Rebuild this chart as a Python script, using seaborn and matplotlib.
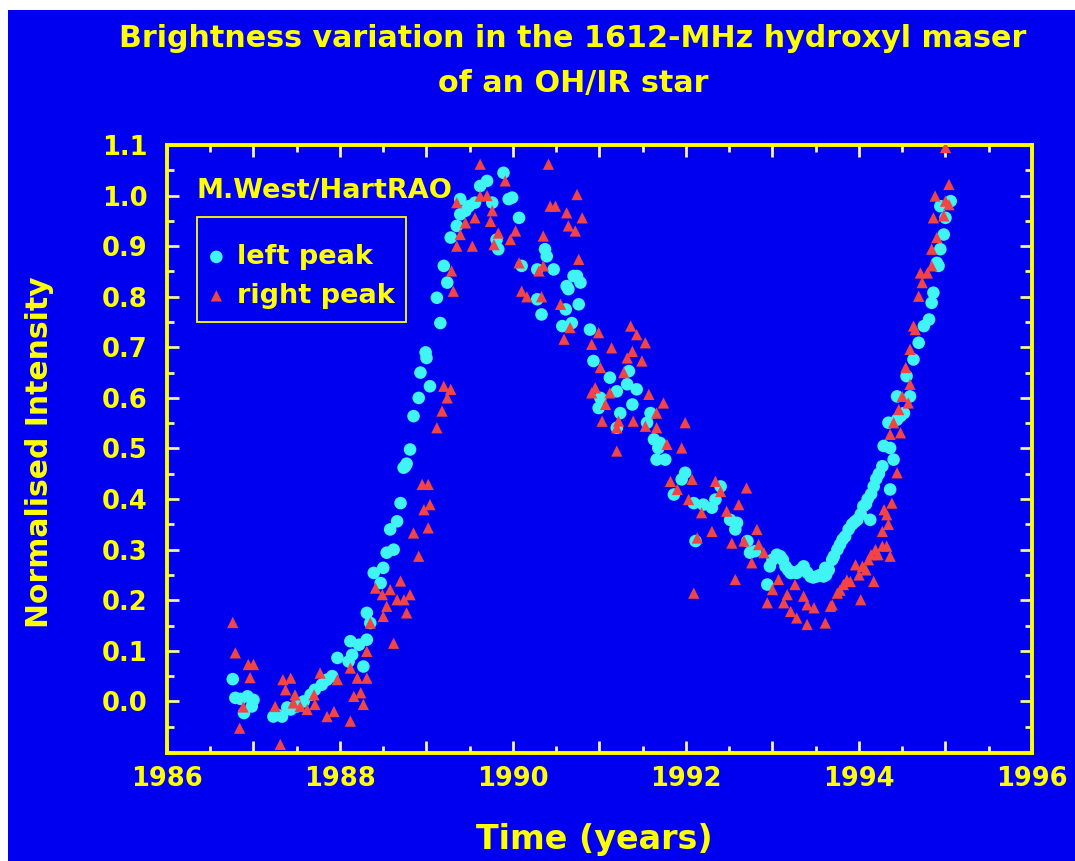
import matplotlib
matplotlib.use("Agg")
import matplotlib.pyplot as plt
from matplotlib.patches import Rectangle
from matplotlib.ticker import MultipleLocator, FixedLocator, FuncFormatter
import seaborn as sns
import pandas as pd

# ---------------- data ----------------
left_year = [
    1986.76, 1986.79, 1986.85, 1986.89, 1986.93, 1986.98, 1987.00, 1987.23, 1987.27, 1987.33,
    1987.39, 1987.43, 1987.50, 1987.58, 1987.66, 1987.71, 1987.79, 1987.85, 1987.91, 1987.97,
    1988.10, 1988.12, 1988.14, 1988.22, 1988.27, 1988.31, 1988.31, 1988.35, 1988.39, 1988.47,
    1988.50, 1988.54, 1988.58, 1988.62, 1988.66, 1988.70, 1988.735, 1988.755, 1988.77, 1988.81,
    1988.85, 1988.91, 1988.93, 1988.99, 1989.00, 1989.04, 1989.12, 1989.16, 1989.20, 1989.24,
    1989.28, 1989.35, 1989.39, 1989.39, 1989.45, 1989.49, 1989.56, 1989.62, 1989.70, 1989.76,
    1989.81, 1989.83, 1989.89, 1989.95, 1989.99, 1990.07, 1990.10, 1990.28, 1990.28, 1990.33,
    1990.37, 1990.39, 1990.47, 1990.57, 1990.61, 1990.62, 1990.64, 1990.68, 1990.70, 1990.74,
    1990.76, 1990.78, 1990.89, 1990.93, 1990.99, 1991.01, 1991.12, 1991.20, 1991.20, 1991.24,
    1991.32, 1991.34, 1991.38, 1991.43, 1991.55, 1991.59, 1991.63, 1991.66, 1991.68, 1991.70,
    1991.76, 1991.86, 1991.95, 1991.99, 1992.09, 1992.11, 1992.20, 1992.30, 1992.34, 1992.40,
    1992.51, 1992.57, 1992.59, 1992.71, 1992.74, 1992.80, 1992.94, 1992.97, 1993.00, 1993.05,
    1993.09, 1993.12, 1993.15, 1993.18, 1993.21, 1993.25, 1993.28, 1993.32, 1993.36, 1993.40,
    1993.44, 1993.47, 1993.51, 1993.55, 1993.59, 1993.61, 1993.62, 1993.65, 1993.69, 1993.71,
    1993.75, 1993.78, 1993.81, 1993.84, 1993.88, 1993.92, 1993.95, 1993.98, 1994.02, 1994.05,
    1994.08, 1994.10, 1994.13, 1994.14, 1994.17, 1994.20, 1994.23, 1994.27, 1994.285, 1994.34,
    1994.36, 1994.36, 1994.40, 1994.44, 1994.44, 1994.48, 1994.52, 1994.55, 1994.59, 1994.63,
    1994.69, 1994.75, 1994.81, 1994.84, 1994.86, 1994.90, 1994.92, 1994.94, 1994.94, 1994.98,
    1995.00, 1995.06,
]
left_intensity = [
    0.044, 0.007, 0.005, -0.023, 0.010, -0.010, 0.003, -0.030, -0.026, -0.030,
    -0.012, -0.016, -0.010, 0.000, 0.013, 0.023, 0.033, 0.043, 0.050, 0.086,
    0.079, 0.119, 0.092, 0.112, 0.069, 0.122, 0.175, 0.155, 0.254, 0.234,
    0.264, 0.294, 0.340, 0.300, 0.356, 0.392, 0.462, 0.465, 0.470, 0.498,
    0.564, 0.600, 0.650, 0.690, 0.679, 0.623, 0.798, 0.748, 0.861, 0.828,
    0.917, 0.940, 0.963, 0.993, 0.970, 0.979, 0.986, 1.019, 1.029, 0.986,
    0.913, 0.894, 1.045, 0.993, 0.996, 0.956, 0.861, 0.795, 0.854, 0.765,
    0.894, 0.880, 0.854, 0.742, 0.775, 0.821, 0.815, 0.748, 0.841, 0.841,
    0.785, 0.828, 0.735, 0.673, 0.580, 0.600, 0.640, 0.613, 0.541, 0.570,
    0.627, 0.653, 0.587, 0.617, 0.551, 0.570, 0.518, 0.478, 0.501, 0.511,
    0.478, 0.409, 0.439, 0.452, 0.392, 0.317, 0.389, 0.383, 0.399, 0.425,
    0.359, 0.340, 0.353, 0.317, 0.294, 0.297, 0.231, 0.267, 0.280, 0.290,
    0.287, 0.280, 0.267, 0.260, 0.254, 0.255, 0.254, 0.260, 0.267, 0.255,
    0.247, 0.245, 0.247, 0.250, 0.247, 0.264, 0.250, 0.260, 0.280, 0.287,
    0.300, 0.310, 0.320, 0.326, 0.340, 0.350, 0.355, 0.359, 0.370, 0.386,
    0.390, 0.400, 0.359, 0.410, 0.425, 0.440, 0.450, 0.465, 0.505, 0.551,
    0.419, 0.501, 0.478, 0.557, 0.603, 0.564, 0.570, 0.643, 0.603, 0.676,
    0.709, 0.742, 0.755, 0.788, 0.808, 0.867, 0.861, 0.894, 0.979, 0.923,
    0.956, 0.989,
]

right_year = [
    1986.76, 1986.79, 1986.84, 1986.88, 1986.94, 1986.96, 1987.00, 1987.25, 1987.31, 1987.34,
    1987.37, 1987.43, 1987.46, 1987.48, 1987.54, 1987.62, 1987.70, 1987.71, 1987.77, 1987.85,
    1987.93, 1987.97, 1988.12, 1988.12, 1988.16, 1988.20, 1988.24, 1988.27, 1988.31, 1988.31,
    1988.35, 1988.41, 1988.49, 1988.50, 1988.54, 1988.58, 1988.62, 1988.66, 1988.70, 1988.74,
    1988.77, 1988.81, 1988.85, 1988.91, 1988.95, 1988.97, 1989.02, 1989.02, 1989.04, 1989.12,
    1989.18, 1989.20, 1989.24, 1989.28, 1989.29, 1989.31, 1989.35, 1989.35, 1989.39, 1989.45,
    1989.53, 1989.56, 1989.62, 1989.62, 1989.70, 1989.74, 1989.76, 1989.78, 1989.83, 1989.91,
    1989.97, 1990.03, 1990.07, 1990.10, 1990.16, 1990.30, 1990.33, 1990.35, 1990.35, 1990.41,
    1990.43, 1990.49, 1990.55, 1990.59, 1990.62, 1990.64, 1990.66, 1990.72, 1990.74, 1990.76,
    1990.80, 1990.91, 1990.91, 1990.95, 1990.99, 1991.01, 1991.03, 1991.07, 1991.12, 1991.14,
    1991.20, 1991.20, 1991.22, 1991.28, 1991.32, 1991.36, 1991.38, 1991.39, 1991.43, 1991.49,
    1991.53, 1991.53, 1991.57, 1991.66, 1991.66, 1991.74, 1991.78, 1991.82, 1991.90, 1991.95,
    1991.99, 1992.03, 1992.07, 1992.09, 1992.13, 1992.18, 1992.30, 1992.34, 1992.40, 1992.47,
    1992.53, 1992.57, 1992.61, 1992.67, 1992.70, 1992.76, 1992.82, 1992.84, 1992.90, 1992.94,
    1993.00, 1993.07, 1993.13, 1993.17, 1993.21, 1993.26, 1993.28, 1993.36, 1993.40, 1993.40,
    1993.48, 1993.61, 1993.67, 1993.69, 1993.75, 1993.78, 1993.82, 1993.86, 1993.90, 1993.96,
    1994.00, 1994.02, 1994.04, 1994.08, 1994.11, 1994.14, 1994.17, 1994.19, 1994.22, 1994.27,
    1994.27, 1994.29, 1994.32, 1994.32, 1994.34, 1994.36, 1994.36, 1994.38, 1994.40, 1994.44,
    1994.46, 1994.48, 1994.50, 1994.54, 1994.57, 1994.59, 1994.59, 1994.63, 1994.65, 1994.69,
    1994.71, 1994.73, 1994.79, 1994.84, 1994.84, 1994.86, 1994.88, 1994.90, 1994.98, 1995.00,
    1995.00, 1995.04, 1995.04,
]
right_intensity = [
    0.156, 0.096, -0.053, -0.011, 0.073, 0.047, 0.073, -0.010, -0.085, 0.043,
    0.023, 0.046, -0.003, 0.013, -0.010, -0.016, 0.013, -0.006, 0.056, -0.030,
    -0.020, 0.043, -0.039, 0.066, 0.010, 0.046, 0.017, -0.006, 0.046, 0.099,
    0.155, 0.224, 0.211, 0.168, 0.188, 0.221, 0.115, 0.201, 0.238, 0.201,
    0.175, 0.211, 0.333, 0.287, 0.429, 0.379, 0.429, 0.343, 0.389, 0.541,
    0.574, 0.623, 0.600, 0.617, 0.851, 0.811, 0.900, 0.986, 0.923, 0.946,
    0.900, 0.956, 1.062, 0.999, 1.000, 0.949, 0.970, 0.903, 0.926, 1.029,
    0.913, 0.930, 0.867, 0.811, 0.800, 0.851, 0.800, 0.861, 0.920, 1.062,
    0.979, 0.979, 0.785, 0.716, 0.966, 0.940, 0.739, 0.930, 1.002, 0.874,
    0.956, 0.706, 0.610, 0.620, 0.729, 0.660, 0.554, 0.587, 0.610, 0.699,
    0.495, 0.541, 0.554, 0.650, 0.679, 0.742, 0.692, 0.554, 0.725, 0.673,
    0.709, 0.544, 0.607, 0.570, 0.541, 0.590, 0.508, 0.435, 0.419, 0.501,
    0.551, 0.399, 0.439, 0.214, 0.323, 0.373, 0.336, 0.435, 0.415, 0.376,
    0.313, 0.241, 0.389, 0.317, 0.422, 0.274, 0.340, 0.310, 0.294, 0.195,
    0.221, 0.241, 0.195, 0.211, 0.178, 0.231, 0.165, 0.208, 0.191, 0.152,
    0.185, 0.155, 0.188, 0.191, 0.214, 0.220, 0.231, 0.240, 0.237, 0.270,
    0.250, 0.201, 0.267, 0.260, 0.280, 0.290, 0.237, 0.300, 0.290, 0.307,
    0.336, 0.379, 0.307, 0.369, 0.350, 0.287, 0.528, 0.392, 0.551, 0.452,
    0.577, 0.531, 0.603, 0.660, 0.590, 0.627, 0.696, 0.742, 0.735, 0.801,
    0.847, 0.828, 0.847, 0.861, 0.894, 0.956, 0.999, 0.917, 0.960, 0.989,
    1.095, 0.982, 1.022,
]

title_lines = ["Brightness variation in the 1612-MHz hydroxyl maser", "of an OH/IR star"]
x_label = "Time (years)"
y_label = "Normalised Intensity"
credit = "M.West/HartRAO"
series_names = ["left peak", "right peak"]
x_tick_labels = ["1986", "1988", "1990", "1992", "1994", "1996"]

# ---------------- styling ----------------
BLUE = "#0000f0"
YELLOW = "#ffff00"
CYAN = "#40f4f4"
RED = "#f24444"

plt.rcParams["font.family"] = ["DejaVu Sans"]
plt.rcParams["font.weight"] = "bold"

W, H = 1075, 861
AX_L, AX_R, AX_T, AX_B = 167, 1032, 145, 753
AW, AH = AX_R - AX_L, AX_B - AX_T

fig = plt.figure(figsize=(W / 100, H / 100), dpi=100, facecolor=BLUE)
# thin white margins at top and left, as in the reference
fig.add_artist(Rectangle((0, 1 - 10 / H), 1, 10 / H, transform=fig.transFigure,
                         facecolor="white", edgecolor="none", zorder=0))
fig.add_artist(Rectangle((0, 0), 8 / W, 1, transform=fig.transFigure,
                         facecolor="white", edgecolor="none", zorder=0))

ax = fig.add_axes([AX_L / W, (H - AX_B) / H, AW / W, AH / H])
ax.set_facecolor(BLUE)

left_df = pd.DataFrame({"year": left_year, "intensity": left_intensity})
right_df = pd.DataFrame({"year": right_year, "intensity": right_intensity})

sns.scatterplot(data=left_df, x="year", y="intensity", ax=ax, marker="o", s=82,
                color=CYAN, edgecolor="none", linewidth=0, label=series_names[0], zorder=3)
sns.scatterplot(data=right_df, x="year", y="intensity", ax=ax, marker="^", s=66,
                color=RED, edgecolor="none", linewidth=0, label=series_names[1], zorder=4)

ax.set_xlim(1986, 1996)
ax.set_ylim(-0.102, 1.1)
ax.set_xlabel("")
ax.set_ylabel("")

# ticks
ax.xaxis.set_major_locator(MultipleLocator(1))
ax.xaxis.set_minor_locator(MultipleLocator(0.5))
xlab_map = {int(s): s for s in x_tick_labels}
ax.xaxis.set_major_formatter(FuncFormatter(lambda v, p: xlab_map.get(int(round(v)), "")))
yt = [i / 10 for i in range(0, 12)]
ax.yaxis.set_major_locator(FixedLocator(yt))
ax.yaxis.set_minor_locator(FixedLocator([-0.05 + i * 0.1 for i in range(0, 12)]))
ax.yaxis.set_major_formatter(FuncFormatter(lambda v, p: f"{v:.1f}"))

for side in ["left", "right", "top", "bottom"]:
    ax.spines[side].set_color(YELLOW)
    ax.spines[side].set_linewidth(2.8)

ax.tick_params(axis="both", which="both", direction="in", top=True, right=True,
               color="#f4f49c", width=2.0)
ax.tick_params(axis="both", which="major", length=8.5)
ax.tick_params(axis="both", which="minor", length=5)
ax.tick_params(axis="x", which="major", labelsize=18.5, labelcolor=YELLOW, pad=9)
ax.tick_params(axis="y", which="major", labelsize=18.5, labelcolor=YELLOW, pad=14)
for lab in ax.get_xticklabels() + ax.get_yticklabels():
    lab.set_fontweight("bold")

# legend box (drawn as a rectangle so its padding matches the reference)
box_px = (196.7, 216.7, 406.0, 321.7)  # left, top, right, bottom in pixels
ax.add_patch(Rectangle(((box_px[0] - AX_L) / AW, (AX_B - box_px[3]) / AH),
                       (box_px[2] - box_px[0]) / AW, (box_px[3] - box_px[1]) / AH,
                       transform=ax.transAxes, facecolor=BLUE, edgecolor=YELLOW,
                       linewidth=1.3, zorder=6))
leg = ax.legend(loc="upper left", bbox_to_anchor=((205.5 - AX_L) / AW, (AX_B - 244.0) / AH),
                borderaxespad=0, frameon=False, handlelength=0.8, handletextpad=0.35,
                borderpad=0, labelspacing=0.48, prop={"weight": "bold", "size": 19.5})
leg.set_zorder(7)
for t in leg.get_texts():
    t.set_color(YELLOW)

# credit text inside axes
ax.text((196.7 - AX_L) / AW, (AX_B - 198) / AH, credit, transform=ax.transAxes,
        ha="left", va="baseline", fontsize=19.5, fontweight="bold", color=YELLOW, zorder=5)

# titles and labels
fig.text(573 / W, 1 - 47 / H, title_lines[0], ha="center", va="baseline",
         fontsize=21.7, fontweight="bold", color=YELLOW)
fig.text(573 / W, 1 - 92 / H, title_lines[1], ha="center", va="baseline",
         fontsize=21.7, fontweight="bold", color=YELLOW)
fig.text(40 / W, 1 - 452 / H, y_label, ha="center", va="center", rotation=90,
         fontsize=21.5, fontweight="bold", color=YELLOW)
fig.text(594 / W, 1 - 849 / H, x_label, ha="center", va="baseline",
         fontsize=24, fontweight="bold", color=YELLOW)

fig.savefig("out.png", dpi=100, facecolor=fig.get_facecolor())
